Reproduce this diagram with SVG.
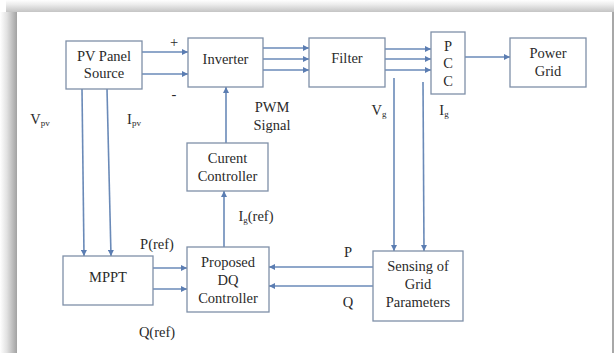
<svg xmlns="http://www.w3.org/2000/svg" width="614" height="353" viewBox="0 0 614 353">
<defs>
<linearGradient id="gl" x1="0" y1="0" x2="1" y2="0">
<stop offset="0" stop-color="#ffffff"/>
<stop offset="0.4" stop-color="#e2e2e2"/>
<stop offset="1" stop-color="#a2a2a2"/>
</linearGradient>
<linearGradient id="gt" x1="0" y1="0" x2="0" y2="1">
<stop offset="0" stop-color="#ffffff"/>
<stop offset="0.4" stop-color="#ebebeb"/>
<stop offset="1" stop-color="#c4c4c4"/>
</linearGradient>
<marker id="ah" viewBox="0 0 10 10" refX="10" refY="5" markerWidth="7" markerHeight="6" markerUnits="userSpaceOnUse" orient="auto">
<path d="M0,0 L10,5 L0,10 Z" fill="#5b7db2"/>
</marker>
</defs>
<style>
.box{fill:#ffffff;stroke:#7f90a8;stroke-width:1.3}
.ln{fill:none;stroke:#6a8ab8;stroke-width:1.6}
.t{font-family:"Liberation Serif","Times New Roman",serif;font-size:14.5px;fill:#2a2a2a;text-anchor:middle}
.s{font-size:9px}
</style>
<rect x="0" y="0" width="614" height="353" fill="#ffffff"/>
<rect x="0" y="12" width="17" height="341" fill="url(#gl)"/>
<rect x="6" y="0" width="608" height="12" fill="url(#gt)"/>
<rect x="612" y="12" width="2" height="341" fill="#a8a8a8"/>

<g id="connectors">
<line class="ln" x1="142" y1="52" x2="188" y2="52" marker-end="url(#ah)"/>
<line class="ln" x1="142" y1="74" x2="188" y2="74" marker-end="url(#ah)"/>
<line class="ln" x1="263" y1="48" x2="309" y2="48" marker-end="url(#ah)"/>
<line class="ln" x1="263" y1="59" x2="309" y2="59" marker-end="url(#ah)"/>
<line class="ln" x1="263" y1="70" x2="309" y2="70" marker-end="url(#ah)"/>
<line class="ln" x1="385" y1="49" x2="431" y2="49" marker-end="url(#ah)"/>
<line class="ln" x1="385" y1="59" x2="431" y2="59" marker-end="url(#ah)"/>
<line class="ln" x1="385" y1="70" x2="431" y2="70" marker-end="url(#ah)"/>
<line class="ln" x1="465" y1="57" x2="510" y2="57" marker-end="url(#ah)"/>
<line class="ln" x1="394" y1="78" x2="394" y2="251" marker-end="url(#ah)"/>
<line class="ln" x1="423" y1="82" x2="424" y2="251" marker-end="url(#ah)"/>
<line class="ln" x1="82" y1="89" x2="84" y2="256" marker-end="url(#ah)"/>
<line class="ln" x1="107" y1="89" x2="111" y2="256" marker-end="url(#ah)"/>
<line class="ln" x1="226" y1="143" x2="226" y2="87" marker-end="url(#ah)"/>
<line class="ln" x1="224" y1="247" x2="224" y2="191" marker-end="url(#ah)"/>
<line class="ln" x1="153" y1="268" x2="187" y2="268" marker-end="url(#ah)"/>
<line class="ln" x1="153" y1="289" x2="187" y2="289" marker-end="url(#ah)"/>
<line class="ln" x1="373" y1="267" x2="269" y2="267" marker-end="url(#ah)"/>
<line class="ln" x1="373" y1="286" x2="269" y2="286" marker-end="url(#ah)"/>
</g>

<g id="pv">
<rect class="box" x="66" y="41" width="76" height="48"/>
<text class="t" x="104" y="61">PV Panel</text>
<text class="t" x="104" y="78">Source</text>
</g>
<g id="inverter">
<rect class="box" x="188" y="38" width="75" height="49"/>
<text class="t" x="225.5" y="64">Inverter</text>
</g>
<g id="filter">
<rect class="box" x="309" y="38" width="76" height="49"/>
<text class="t" x="347" y="63">Filter</text>
</g>
<g id="pcc">
<rect class="box" x="431" y="32" width="34" height="62"/>
<text class="t" x="448" y="51">P</text>
<text class="t" x="448" y="68">C</text>
<text class="t" x="448" y="86">C</text>
</g>
<g id="grid">
<rect class="box" x="510" y="38" width="76" height="49"/>
<text class="t" x="548" y="58">Power</text>
<text class="t" x="548" y="76">Grid</text>
</g>
<g id="current">
<rect class="box" x="187" y="143" width="81" height="48"/>
<text class="t" x="227.5" y="163">Curent</text>
<text class="t" x="227.5" y="181">Controller</text>
</g>
<g id="mppt">
<rect class="box" x="63" y="256" width="90" height="49"/>
<text class="t" x="108" y="282">MPPT</text>
</g>
<g id="dq">
<rect class="box" x="187" y="247" width="82" height="65"/>
<text class="t" x="228" y="267">Proposed</text>
<text class="t" x="228" y="285">DQ</text>
<text class="t" x="228" y="303">Controller</text>
</g>
<g id="sensing">
<rect class="box" x="373" y="251" width="90" height="70"/>
<text class="t" x="418" y="271">Sensing of</text>
<text class="t" x="418" y="289">Grid</text>
<text class="t" x="418" y="307">Parameters</text>
</g>

<g id="labels">
<text class="t" x="174" y="47">+</text>
<text class="t" x="174" y="99">-</text>
<text class="t" x="40" y="124">V<tspan class="s" dy="2">pv</tspan></text>
<text class="t" x="134" y="124">I<tspan class="s" dy="2">pv</tspan></text>
<text class="t" x="272" y="112">PWM</text>
<text class="t" x="272" y="130">Signal</text>
<text class="t" x="379" y="115">V<tspan class="s" dy="2">g</tspan></text>
<text class="t" x="444" y="115">I<tspan class="s" dy="2">g</tspan></text>
<text class="t" x="256" y="221">I<tspan class="s" dy="2">g</tspan><tspan dy="-2">(ref)</tspan></text>
<text class="t" x="157" y="249">P(ref)</text>
<text class="t" x="157" y="337">Q(ref)</text>
<text class="t" x="348" y="257">P</text>
<text class="t" x="348" y="307">Q</text>
</g>
</svg>
